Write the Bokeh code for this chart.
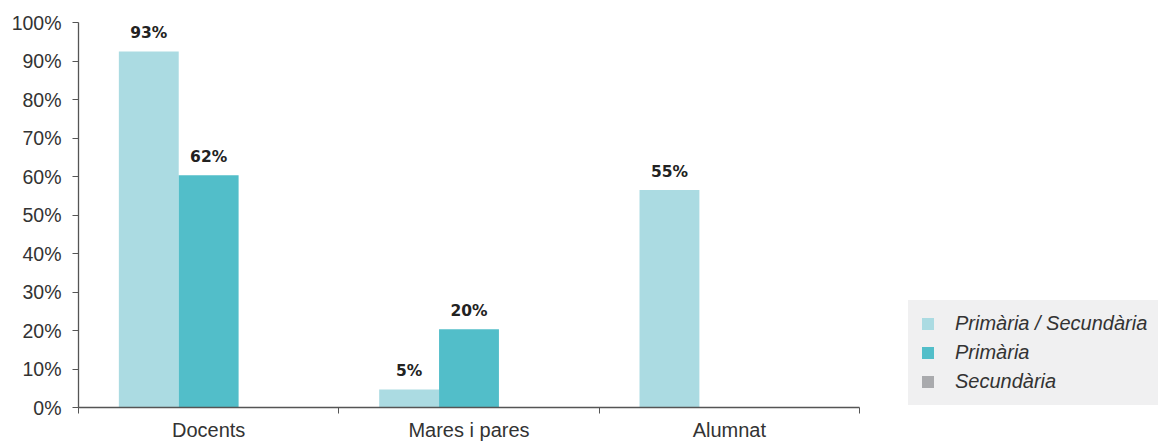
from bokeh.plotting import figure
from bokeh.models import (ColumnDataSource, Range1d, FixedTicker, Legend, LegendItem,
                          LabelSet, CustomJSTickFormatter)
from bokeh.core.properties import value
from bokeh.transform import dodge
from bokeh.embed import file_html
from bokeh.resources import INLINE

categories = ["Docents", "Mares i pares", "Alumnat"]
series_names = ["Primària / Secundària", "Primària", "Secundària"]
prim_sec = [92.5, 4.7, 56.5]
primaria = [60.3, 20.3, 0]
secundaria = [0, 0, 0]
prim_sec_labels = ["93%", "5%", "55%"]
primaria_labels = ["62%", "20%", ""]
y_ticks = [0, 10, 20, 30, 40, 50, 60, 70, 80, 90, 100]
colors = ["#abdbe2", "#52bec9", "#a9aaad"]

FONT = "Liberation Sans"
n = len(categories)
xc = [i + 0.5 for i in range(n)]

src = ColumnDataSource(dict(x=xc, ps=prim_sec, pr=primaria, se=secundaria,
                            psl=prim_sec_labels, prl=primaria_labels))

PX_PER_CAT = 260.33
FRAME_W = 1080
p = figure(frame_width=FRAME_W, frame_height=385, output_backend="svg",
           toolbar_location=None,
           x_range=Range1d(0, FRAME_W / PX_PER_CAT), y_range=Range1d(0, 100),
           min_border_left=78, min_border_right=0, min_border_top=22,
           min_border_bottom=30)
p.outline_line_color = None
p.grid.visible = False
p.background_fill_color = "white"

w = 0.23
offs = [-0.23, 0.0, 0.23]
r1 = p.vbar(x=dodge("x", offs[0], range=p.x_range), top="ps", width=w, source=src,
            color=colors[0], line_color=None)
r2 = p.vbar(x=dodge("x", offs[1], range=p.x_range), top="pr", width=w, source=src,
            color=colors[1], line_color=None)
r3 = p.vbar(x=dodge("x", offs[2], range=p.x_range), top="se", width=w, source=src,
            color=colors[2], line_color=None)

for col, lab, off in [("ps", "psl", offs[0]), ("pr", "prl", offs[1])]:
    ls = LabelSet(x=dodge("x", off, range=p.x_range), y=col, text=lab, source=src,
                  text_align="center", text_baseline="bottom", y_offset=9,
                  text_font=value("DejaVu Sans"), text_font_size="15.5px",
                  text_font_style="bold", text_color="#222222")
    p.add_layout(ls)

# x axis: labels at centres, ticks at category boundaries, line only under categories
p.xaxis.bounds = (0, n)
p.xaxis.ticker = FixedTicker(ticks=xc, minor_ticks=list(range(n + 1)))
p.xaxis.major_label_overrides = {c: categories[i] for i, c in enumerate(xc)}
p.xaxis.major_tick_out = 0
p.xaxis.major_tick_in = 0
p.xaxis.minor_tick_out = 6
p.xaxis.minor_tick_in = 0
p.xaxis.minor_tick_line_color = "#555555"
p.xaxis.axis_line_color = "#555555"
p.xaxis.axis_line_width = 1.3
p.xaxis.major_label_text_font = FONT
p.xaxis.major_label_text_font_size = "20px"
p.xaxis.major_label_text_color = "#333333"
p.xaxis.major_label_standoff = 5

p.yaxis.ticker = FixedTicker(ticks=y_ticks, minor_ticks=[])
p.yaxis.formatter = CustomJSTickFormatter(code="return tick.toFixed(0) + '%';")
p.yaxis.major_tick_out = 6
p.yaxis.major_tick_in = 0
p.yaxis.major_tick_line_color = "#555555"
p.yaxis.axis_line_color = "#555555"
p.yaxis.axis_line_width = 1.3
p.yaxis.major_label_text_font = FONT
p.yaxis.major_label_text_font_size = "19.5px"
p.yaxis.major_label_text_color = "#333333"
p.yaxis.major_label_standoff = 11

legend = Legend(items=[LegendItem(label=series_names[0], renderers=[r1]),
                       LegendItem(label=series_names[1], renderers=[r2]),
                       LegendItem(label=series_names[2], renderers=[r3])],
                location=(830, 2), orientation="vertical",
                background_fill_color="#f0f0f1", background_fill_alpha=1.0,
                border_line_color="#f0f0f1", border_line_width=1,
                padding=11, margin=0, spacing=6,
                glyph_width=15, glyph_height=15, label_height=20,
                label_standoff=20, label_text_font=FONT,
                label_text_font_size="20px", label_text_font_style="italic",
                label_text_color="#333333", label_text_baseline="middle")
p.add_layout(legend, "center")

open("out.html", "w").write(file_html(p, INLINE))
